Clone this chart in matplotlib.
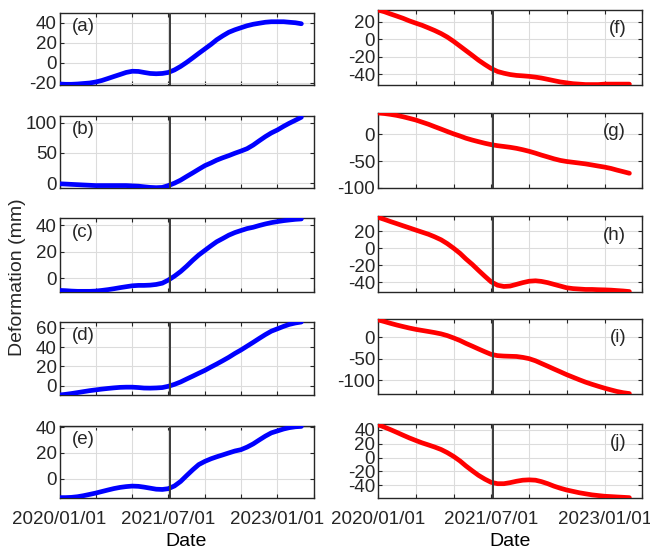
import numpy as np
import pandas as pd
import matplotlib
matplotlib.use("Agg")
import matplotlib.pyplot as plt

plt.rcParams['font.family'] = ['Liberation Sans', 'DejaVu Sans']
plt.rcParams['axes.unicode_minus'] = False

# monthly samples, 2020/01 .. 2023/05
dates = pd.date_range('2020-01-01', periods=41, freq='MS')
event_date = pd.Timestamp('2021-07-08')

a = [-21, -21.3, -21.3, -21, -20.5, -20, -19, -17.5, -15.5, -13.5, -11.5, -9.5, -8.3, -8.5,
     -9.5, -10.5, -10.8, -10.5, -9.5, -7, -3.5, 0.5, 5, 9.5, 14, 18.5, 23, 27, 30.5, 33, 35,
     37, 38.5, 39.5, 40.5, 41, 41, 41, 40.5, 40, 39]
b = [-1, -1.5, -2, -2.5, -3, -3.5, -4, -4, -4, -4, -4, -4, -4.5, -5, -6, -7, -7.5, -7, -4, 0,
     5, 11, 17, 23, 29, 33.5, 38, 42, 45.5, 49.5, 53, 57, 63, 70, 77, 83, 88, 94, 99, 104, 109]
c = [-9.3, -9.5, -9.8, -10, -10, -10, -9.8, -9.3, -8.7, -8, -7.2, -6.5, -5.8, -5.5, -5.5,
     -5.3, -4.8, -3.8, -1.5, 1.5, 5, 9, 13.5, 17.5, 21, 24.5, 27.5, 30, 32.5, 34.5, 36, 37.5,
     38.5, 39.8, 41, 42, 42.8, 43.5, 44, 44.5, 44.8]
d = [-9.5, -8.8, -8, -7, -6, -5, -4.2, -3.4, -2.7, -2.1, -1.6, -1.4, -1.4, -1.8, -2.3, -2.4,
     -2.2, -1.8, -0.5, 1.5, 4, 7, 10, 13, 16, 19.5, 22.5, 26, 29.5, 33.5, 37, 41, 45, 49, 53,
     56.5, 59, 61.5, 63.5, 65, 66]
e = [-14.5, -14.5, -14.3, -13.8, -13, -12, -11, -9.8, -8.6, -7.5, -6.6, -6, -5.6, -5.8, -6.4,
     -7.2, -8, -8.2, -7.6, -5.5, -2, 2.5, 7, 11, 13.5, 15.5, 17, 18.5, 20, 21.5, 22.5, 24.5,
     27, 30, 33, 35.5, 37, 38.5, 39.5, 40.2, 40.5]
f = [33.5, 31.5, 29, 26.5, 24, 21, 18.5, 16, 13, 10, 6.5, 2.5, -2.5, -8, -13, -18.5, -24, -29,
     -33.5, -37, -39, -40.5, -41.5, -42, -42.6, -43.5, -44.5, -46, -47.5, -49, -50, -51, -51.5,
     -52, -52, -52, -51.5, -51.5, -51.5, -51.5, -51.5]
g = [40, 39, 37.5, 35.5, 33, 30, 27, 23, 19, 14.5, 10, 5.5, 1, -3, -7, -10.5, -13.5, -16.5, -19,
     -21, -22.5, -24, -26, -28.5, -31.5, -35, -38.5, -42, -45.5, -48.5, -50.5, -52, -53.5, -55,
     -57, -59, -61, -63.5, -66.5, -69.5, -72.5]
h = [36.5, 34, 31.5, 29, 26.5, 24, 21.5, 19, 16.5, 13.5, 10, 5.5, 0, -6, -12.5, -19, -26, -33,
     -39.5, -43.5, -45, -44.5, -42.5, -40.5, -38.8, -38.3, -39, -40.5, -42.5, -44.5, -46.5,
     -47.5, -48, -48.5, -48.5, -48.8, -49, -49.3, -49.8, -50.3, -51]
i_ = [40, 36, 32, 28, 24.5, 21, 18, 15.5, 13, 10.5, 7.5, 3.5, -2, -8, -14.5, -21, -27.5, -34,
      -40, -43, -44, -44.5, -45, -47, -50, -55, -61, -67.5, -74, -80.5, -87, -93, -99, -104.5,
      -109.5, -114, -118.5, -122.5, -126, -129, -131]
j = [47, 43.5, 40, 36, 32, 28, 24.5, 21, 18, 15, 11.5, 7, 1.5, -5, -12, -19, -25.5, -31, -35.5,
     -37.5, -37.5, -36, -34, -32.5, -32, -32.5, -34.5, -37.5, -41, -44, -46.5, -48.5, -50.5,
     -52, -53.5, -54.5, -55.5, -56, -56.5, -57, -57.5]

left_series = [a, b, c, d, e]
right_series = [f, g, h, i_, j]
left_labels = ['(a)', '(b)', '(c)', '(d)', '(e)']
right_labels = ['(f)', '(g)', '(h)', '(i)', '(j)']
left_ylims = [(-22, 50), (-8, 111), (-10.5, 45.5), (-9.5, 66), (-14.8, 40.8)]
right_ylims = [(-52.5, 33.5), (-100, 40), (-51.5, 38), (-132, 42), (-58, 48)]
left_yticks = [[-20, 0, 20, 40], [0, 50, 100], [0, 20, 40], [0, 20, 40, 60], [0, 20, 40]]
right_yticks = [[-40, -20, 0, 20], [-100, -50, 0], [-40, -20, 0, 20], [-100, -50, 0],
                [-40, -20, 0, 20, 40]]

grid_dates = pd.date_range('2020-01-01', '2023-07-01', freq='6MS')
label_dates = ['2020/01/01', '2021/07/01', '2023/01/01']

W, H = 650, 555
left_x = (59.5, 313.5)
right_x = (378, 642)
left_y = [(12.7, 85), (116, 188), (218, 292), (322, 395), (426, 498)]
right_y = [(10, 85), (113, 188), (216, 292), (319, 394), (424, 498)]

fig = plt.figure(figsize=(6.5, 5.55), dpi=100)


def make_panel(xr, yr, data, color, ylim, yticks, label, label_right, last):
    ax = fig.add_axes([xr[0] / W, 1 - yr[1] / H, (xr[1] - xr[0]) / W, (yr[1] - yr[0]) / H])
    ax.plot(dates, data, color=color, lw=3.4, solid_capstyle='round', zorder=3)
    ax.axvline(event_date, color='#3a3a3a', lw=1.4, zorder=4)
    ax.set_xlim(pd.Timestamp('2020-01-01'), pd.Timestamp('2023-07-01'))
    ax.set_ylim(*ylim)
    ax.set_yticks(yticks)
    ax.set_xticks(grid_dates)
    if last:
        labs = [dt.strftime('%Y/%m/%d') if dt.strftime('%Y/%m/%d') in label_dates else ''
                for dt in grid_dates]
        ax.set_xticklabels(labs)
        ax.set_xlabel('Date', fontsize=14, labelpad=4)
    else:
        ax.set_xticklabels([])
    ax.grid(True, color='#dcdcdc', lw=0.8)
    ax.set_axisbelow(True)
    ax.tick_params(direction='in', top=True, right=True, length=3, width=0.8,
                   labelsize=13.5, pad=2, colors='#262626')
    ax.tick_params(axis='x', pad=9)
    for sp in ax.spines.values():
        sp.set_linewidth(1.0)
        sp.set_color('#262626')
    if label_right:
        ax.text(0.94, 0.75, label, transform=ax.transAxes, ha='right', va='center',
                fontsize=13.5, color='#262626')
    else:
        ax.text(0.05, 0.81, label, transform=ax.transAxes, ha='left', va='center',
                fontsize=13.5, color='#262626')
    return ax


for k in range(5):
    make_panel(left_x, left_y[k], left_series[k], 'blue', left_ylims[k], left_yticks[k],
               left_labels[k], False, k == 4)
    make_panel(right_x, right_y[k], right_series[k], 'red', right_ylims[k], right_yticks[k],
               right_labels[k], True, k == 4)

fig.text(18 / W, 0.5, 'Deformation (mm)', rotation=90, ha='center', va='center',
         fontsize=14, color='#262626')

fig.savefig('out.png', dpi=100)
